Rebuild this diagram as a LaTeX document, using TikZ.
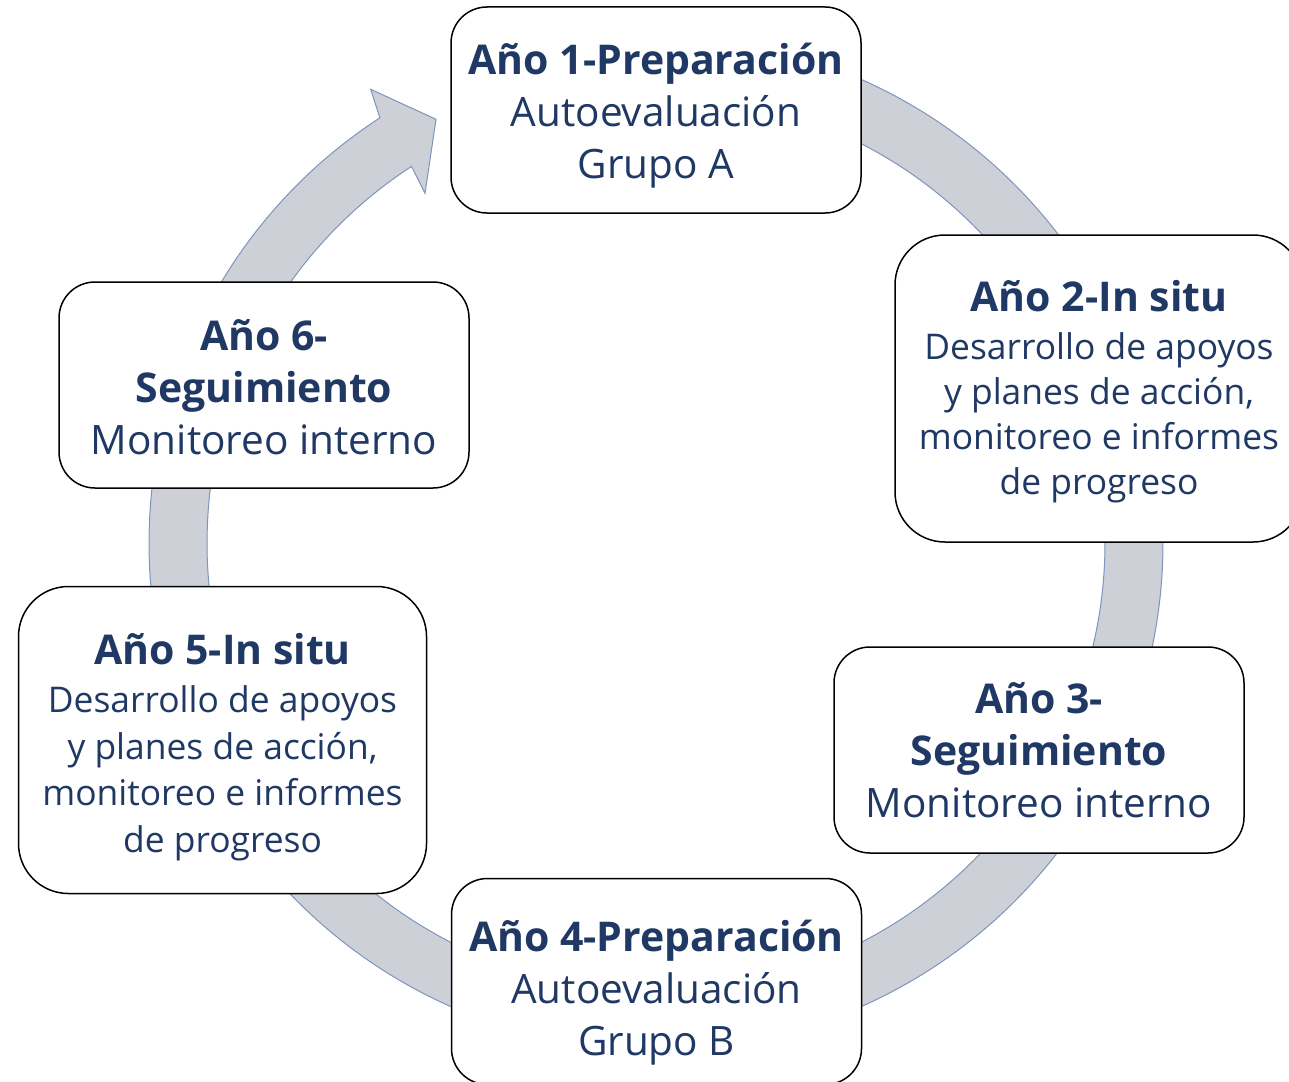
\documentclass[tikz,border=0pt]{standalone}
\usepackage{fontspec}
\setmainfont{Open Sans}
\definecolor{navy}{RGB}{31,56,100}
\definecolor{ringfill}{RGB}{205,208,215}
\definecolor{ringline}{RGB}{125,149,188}
\tikzset{
  card/.style={draw=black, line width=1.5pt, fill=white, inner sep=0pt},
  shortcard/.style={card, minimum width=410pt, minimum height=206pt, rounded corners=36pt},
  tallcard/.style={card, minimum width=408pt, minimum height=307pt, rounded corners=50pt},
  cardtext/.style={text=navy, align=center, inner sep=0pt},
  shorttext/.style={cardtext, font=\fontsize{40.5}{52}\selectfont},
  talltext/.style={cardtext, font=\fontsize{35.4}{45}\selectfont},
  talltextb/.style={cardtext, font=\fontsize{35.4}{46.5}\selectfont}
}
\newcommand{\bigttl}[1]{{\fontsize{41}{52}\selectfont\bfseries #1}}
\newcommand{\tallttl}[1]{{\fontsize{41}{45}\selectfont\bfseries #1}}
\begin{document}
\begin{tikzpicture}[x=1pt,y=-1pt]
\useasboundingbox (0,0) rectangle (1289,1081);
\clip (0,0) rectangle (1289,1081);
\fill[white] (0,0) rectangle (1289,1081);
% circular arrow
\filldraw[fill=ringfill, draw=ringline, line width=1pt, line join=miter]
  plot[domain=95:-237, samples=300] ({656+507*cos(\x)},{543-507*sin(\x)})
  -- (370.7,89.3) -- (436,119.3) -- (425,193.3) -- (411.5,166.4)
  -- plot[domain=-237:95, samples=300] ({656+449*cos(\x)},{543-449*sin(\x)}) -- cycle;
% boxes
\node[shortcard] (b1) at (656,110) {};
\node[tallcard]  (b2) at (1099,388.5) {};
\node[shortcard] (b3) at (1039,750) {};
\node[shortcard] (b4) at (656.5,981.5) {};
\node[tallcard]  (b5) at (222.5,740) {};
\node[shortcard] (b6) at (264,385) {};
% texts
\node[shorttext] (t1) at ([yshift=-6pt]b1.center) {\bigttl{Año 1-Preparación}\\Autoevaluación\\Grupo A};
\node[talltext]  (t2) at ([yshift=-3pt]b2.center) {\tallttl{Año 2-In situ}\\[3pt]Desarrollo de apoyos\\y planes de acción,\\monitoreo e informes\\de progreso};
\node[shorttext] (t3) at (b3.center) {\bigttl{Año 3-}\\\bigttl{Seguimiento}\\Monitoreo interno};
\node[shorttext] (t4) at ([yshift=-11pt]b4.center) {\bigttl{Año 4-Preparación}\\Autoevaluación\\Grupo B};
\node[talltextb] (t5) at ([yshift=-7pt]b5.center) {\tallttl{Año 5-In situ}\\[2pt]Desarrollo de apoyos\\y planes de acción,\\monitoreo e informes\\de progreso};
\node[shorttext] (t6) at ([yshift=-2pt]b6.center) {\bigttl{Año 6-}\\\bigttl{Seguimiento}\\Monitoreo interno};
\end{tikzpicture}
\end{document}
